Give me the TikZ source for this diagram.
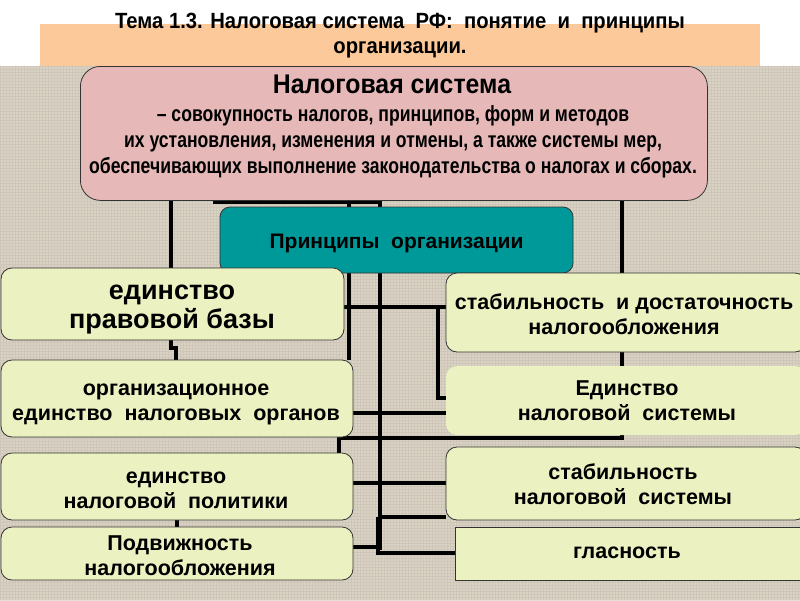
\documentclass[tikz,border=0pt]{standalone}
\usepackage{fontspec}
\setmainfont{Liberation Sans}
\newfontfamily\narrowfont[FakeStretch=0.8]{Liberation Sans}
\newfontfamily\semifont[FakeStretch=0.92]{Liberation Sans}
\usetikzlibrary{backgrounds}
\definecolor{peach}{HTML}{FBC99A}
\definecolor{pinkc}{HTML}{E6B9B8}
\definecolor{tealc}{HTML}{009999}
\definecolor{boxc}{HTML}{EBF1C0}
\definecolor{bgc}{HTML}{DAD2C3}
\definecolor{edgec}{HTML}{333333}
\begin{document}
\begin{tikzpicture}[x=1pt,y=-1pt,
  conn/.style={line width=4.5pt, black},
  pbox/.style={draw=edgec, line width=0.8pt, fill=boxc, rounded corners=11pt, inner sep=0pt},
  sqbox/.style={pbox, rounded corners=0pt},
  ptext/.style={align=center, inner sep=0pt, font=\bfseries\fontsize{21.5}{25}\selectfont}]
\useasboundingbox (0,0) rectangle (800,600);
% title
\node[fill=peach, minimum width=720, minimum height=42, inner sep=0pt, anchor=north west] (band) at (40,24) {};
\node[anchor=base, inner sep=0pt, font=\semifont\bfseries\fontsize{22}{25}\selectfont] (title1) at (400,28) {Тема 1.3. Налоговая система\ \ РФ:\ \ понятие\ \ и\ \ принципы};
\node[anchor=base, inner sep=0pt, font=\semifont\bfseries\fontsize{22}{25}\selectfont] (title2) at (400,53) {организации.};
% main box
\node[draw=edgec, line width=0.8pt, fill=pinkc, rounded corners=20pt, minimum width=627, minimum height=134, anchor=north west, inner sep=0pt] (main) at (80,66) {};
\node[anchor=base, inner sep=0pt, font=\semifont\bfseries\fontsize{27}{30}\selectfont] (mt) at (392,93) {Налоговая система};
\node[align=center, inner sep=0pt, font=\narrowfont\bfseries\fontsize{22}{25.7}\selectfont] (md) at (393,142) {– совокупность налогов, принципов, форм и методов\\их установления, изменения и отмены, а также системы мер,\\обеспечивающих выполнение законодательства о налогах и сборах.};
% principles
\node[draw=edgec, line width=0.8pt, fill=tealc, rounded corners=10pt, minimum width=353, minimum height=66, inner sep=0pt] (pr) at (396.5,240) {};
\node[anchor=base, inner sep=0pt, font=\bfseries\fontsize{21}{25}\selectfont] (prt) at (396.5,248) {Принципы\ \ организации};
% left boxes
\node[pbox, minimum width=343, minimum height=72] (b1) at (172.5,304) {};
\node[pbox, minimum width=352, minimum height=77] (b2) at (177,398.5) {};
\node[pbox, minimum width=352, minimum height=67] (b3) at (177,486.5) {};
\node[pbox, minimum width=352, minimum height=53] (b4) at (177,553.5) {};
% right boxes
\node[pbox, minimum width=360, minimum height=79] (b5) at (626,312.5) {};
\node[pbox, draw=none, minimum width=360, minimum height=69] (b6) at (626,400.5) {};
\node[pbox, minimum width=360, minimum height=73] (b7) at (626,483.5) {};
\node[sqbox, minimum width=350, minimum height=53] (b8) at (630,553.5) {};
% box texts
\node[ptext, font=\bfseries\fontsize{27}{29}\selectfont] (t1) at (172,310) {единство\\правовой базы};
\node[ptext] (t2) at (176,404.5) {организационное\\единство\ \ налоговых\ \ органов};
\node[ptext] (t3) at (176,490.5) {единство\\налоговой\ \ политики};
\node[ptext] (t4) at (180,555.5) {Подвижность\\налогообложения};
\node[ptext] (t5) at (624,314.5) {стабильность\ \ и достаточность\\налогообложения};
\node[ptext] (t6) at (627,400.5) {Единство\\налоговой\ \ системы};
\node[ptext] (t7) at (623,484.5) {стабильность\\налоговой\ \ системы};
\node[ptext] (t8) at (627,553) {гласность};
% connectors
\begin{scope}[on background layer]
\fill[bgc] (0,66) rectangle (800,600);
\draw[bgc!88!black, line width=0.35pt, opacity=0.45] (0,66) grid[step=3pt] (800,600);
\coordinate (j1) at (171,0);
\coordinate (j2) at (349,0);
\coordinate (j3) at (380,0);
\coordinate (j4) at (438,0);
\coordinate (j5) at (622,0);
\coordinate (j6) at (339,0);
\coordinate (j7) at (378,0);
\draw[conn] (main.south -| j1) -- (b1.north -| j1);
\draw[conn] (b1.south -| j1) ++(0,-2) -- (171,348) -- (176,348) -- (176,362);
\draw[conn] (177,518) -- (177,529);
\draw[conn] (213,202) -- (382,202);
\draw[conn] (j2 |- main.south) -- (j2 |- b2.north);
\draw[conn] (j3 |- main.south) -- (380,550);
\draw[conn] (b1.east |- 0,307) -- (b5.west |- 0,307);
\draw[conn] (j4 |- 0,307) -- (438,398) -- (b6.west |- 0,398);
\draw[conn] (b2.east |- 0,413) -- (b6.west |- 0,413);
\draw[conn] (j5 |- main.south) -- (622,438) -- (339,438) -- (j6 |- b3.north);
\draw[conn] (b3.east |- 0,483) -- (b7.west |- 0,483);
\draw[conn] (j7 |- 0,517) -- (b7.west |- 0,517);
\draw[conn] (j7 |- 0,517) -- (378,553) -- (b8.west |- 0,553);
\draw[conn] (b4.east |- 0,547) -- (380,547);
\end{scope}
\end{tikzpicture}
\end{document}
